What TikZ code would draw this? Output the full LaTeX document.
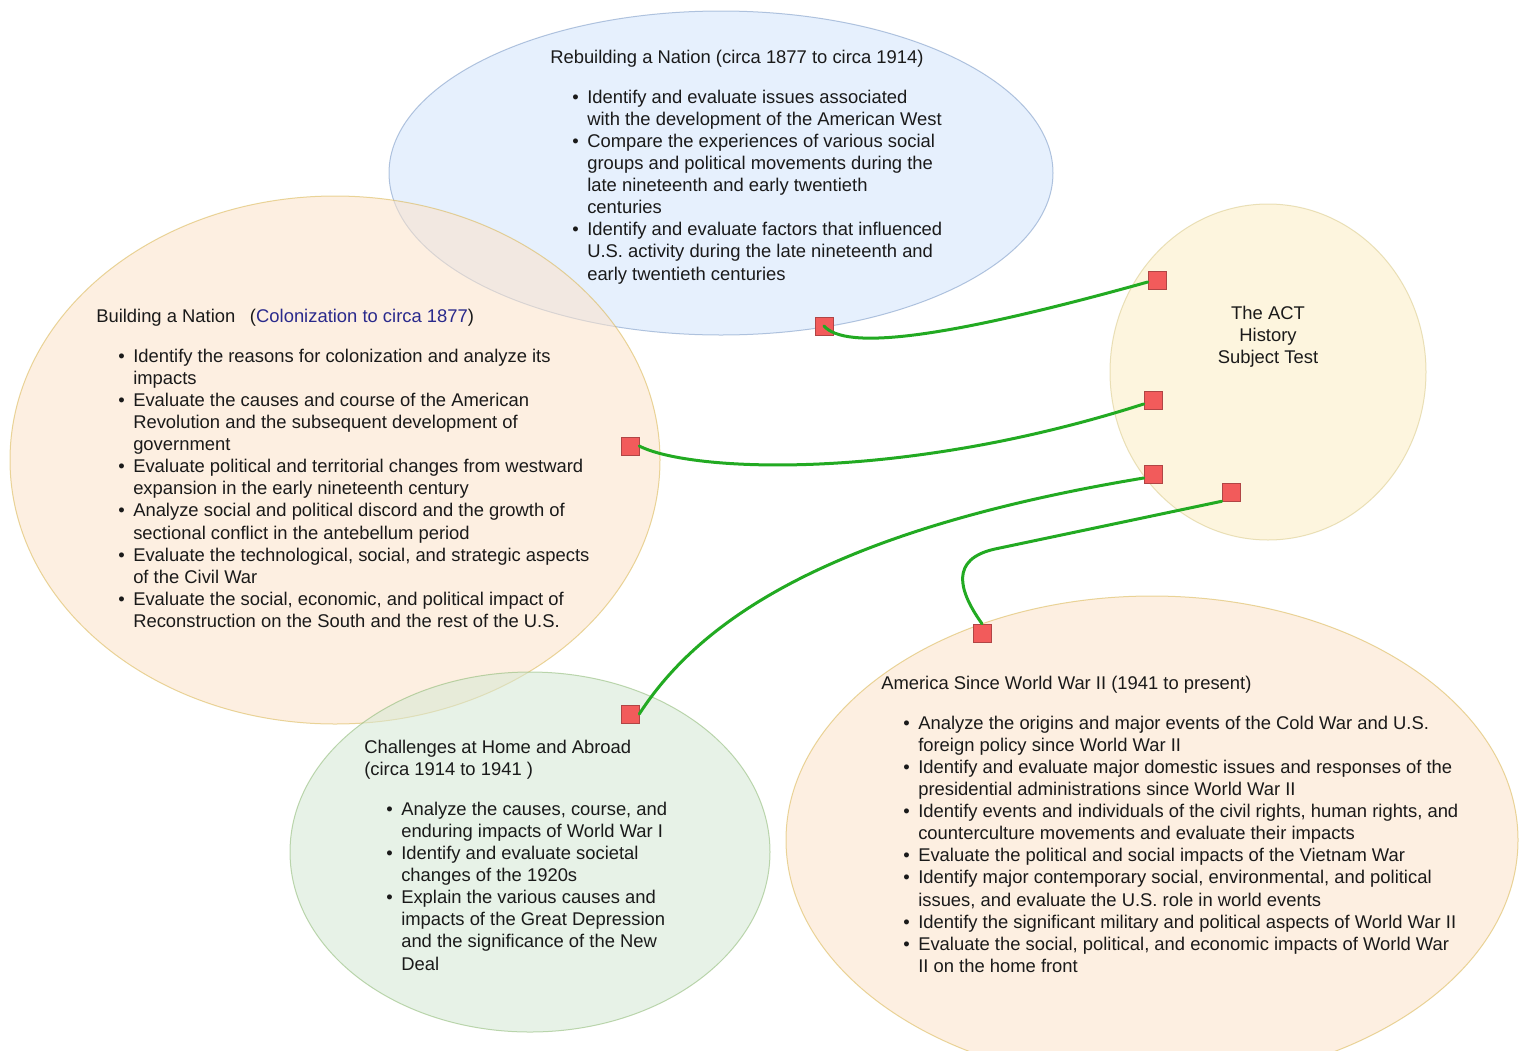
\documentclass[tikz,border=0pt]{standalone}
\usepackage{fontspec}
\setmainfont{Liberation Sans}
\usetikzlibrary{shapes.geometric}
\newdimen\pxu \pxu=0.75pt
\definecolor{txt}{HTML}{1A1A1A}
\definecolor{navy}{HTML}{2A2A8C}
\definecolor{linkg}{HTML}{22AA22}
\definecolor{sqfill}{HTML}{F25B5B}
\definecolor{sqdraw}{HTML}{B04545}
\definecolor{bluefill}{HTML}{DAE8FC}
\definecolor{bluedraw}{HTML}{6C8EBF}
\definecolor{orfill}{HTML}{FDE3CA}
\definecolor{ordraw}{HTML}{D6B040}
\definecolor{yefill}{HTML}{FCEDC4}
\definecolor{yedraw}{HTML}{D6C680}
\definecolor{grfill}{HTML}{D5E8D4}
\definecolor{grdraw}{HTML}{82B366}
\newcommand\mybul{\makebox[27.75pt][l]{\hspace{16.5pt}\textbullet}}
\tikzset{
  blob/.style={ellipse, inner sep=0pt, line width=1\pxu, fill opacity=0.55, draw opacity=0.5},
  sqbox/.style={rectangle, draw=sqdraw, fill=sqfill, minimum size=18\pxu, inner sep=0pt, line width=0.4pt},
  link/.style={draw=linkg, line width=3\pxu, line cap=round},
  txtblock/.style={anchor=base west, inner sep=0pt, text=txt, font=\fontsize{13.8}{16.6}\selectfont},
  centblock/.style={anchor=base, inner sep=0pt, text=txt, font=\fontsize{13.8}{16.6}\selectfont}
}
\begin{document}
\begin{tikzpicture}[x=0.75pt,y=-0.75pt]
\useasboundingbox (0,0) rectangle (1528,1050);
\clip (0,0) rectangle (1528,1050);
\fill[white] (0,0) rectangle (1528,1050);

% ellipses
\node[blob, fill=bluefill, draw=bluedraw, fill opacity=0.65, minimum width=664\pxu, minimum height=324\pxu] (rebuild) at (721,173) {};
\node[blob, fill=orfill, draw=ordraw, minimum width=650\pxu, minimum height=528\pxu] (build) at (335,460) {};
\node[blob, fill=grfill, draw=grdraw, minimum width=480\pxu, minimum height=360\pxu] (chall) at (530,852) {};
\node[blob, fill=yefill, draw=yedraw, minimum width=316\pxu, minimum height=336\pxu] (act) at (1268,372) {};
\node[blob, fill=orfill, draw=ordraw, minimum width=732\pxu, minimum height=488\pxu] (america) at (1152,840) {};

% texts
\node[txtblock] (trebuild) at (550,63) {\begin{tabular}[t]{@{}l@{}l@{}}
\multicolumn{2}{@{}l@{}}{Rebuilding a Nation (circa 1877 to circa 1914)}\\[13.4pt]
\mybul & Identify and evaluate issues associated\\
 & with the development of the American West\\
\mybul & Compare the experiences of various social\\
 & groups and political movements during the\\
 & late nineteenth and early twentieth\\
 & centuries\\
\mybul & Identify and evaluate factors that influenced\\
 & U.S. activity during the late nineteenth and\\
 & early twentieth centuries
\end{tabular}};

\node[txtblock] (tbuild) at (96,322) {\begin{tabular}[t]{@{}l@{}l@{}}
\multicolumn{2}{@{}l@{}}{Building a Nation\hspace{11pt}(\textcolor{navy}{Colonization to circa 1877})}\\[13.4pt]
\mybul & Identify the reasons for colonization and analyze its\\
 & impacts\\
\mybul & Evaluate the causes and course of the American\\
 & Revolution and the subsequent development of\\
 & government\\
\mybul & Evaluate political and territorial changes from westward\\
 & expansion in the early nineteenth century\\
\mybul & Analyze social and political discord and the growth of\\
 & sectional conflict in the antebellum period\\
\mybul & Evaluate the technological, social, and strategic aspects\\
 & of the Civil War\\
\mybul & Evaluate the social, economic, and political impact of\\
 & Reconstruction on the South and the rest of the U.S.
\end{tabular}};

\node[txtblock] (tchall) at (364,753) {\begin{tabular}[t]{@{}l@{}l@{}}
\multicolumn{2}{@{}l@{}}{Challenges at Home and Abroad}\\
\multicolumn{2}{@{}l@{}}{(circa 1914 to 1941 )}\\[13.4pt]
\mybul & Analyze the causes, course, and\\
 & enduring impacts of World War I\\
\mybul & Identify and evaluate societal\\
 & changes of the 1920s\\
\mybul & Explain the various causes and\\
 & impacts of the Great Depression\\
 & and the significance of the New\\
 & Deal
\end{tabular}};

\node[txtblock] (tamerica) at (881,689) {\begin{tabular}[t]{@{}l@{}l@{}}
\multicolumn{2}{@{}l@{}}{America Since World War II (1941 to present)}\\[13.4pt]
\mybul & Analyze the origins and major events of the Cold War and U.S.\\
 & foreign policy since World War II\\
\mybul & Identify and evaluate major domestic issues and responses of the\\
 & presidential administrations since World War II\\
\mybul & Identify events and individuals of the civil rights, human rights, and\\
 & counterculture movements and evaluate their impacts\\
\mybul & Evaluate the political and social impacts of the Vietnam War\\
\mybul & Identify major contemporary social, environmental, and political\\
 & issues, and evaluate the U.S. role in world events\\
\mybul & Identify the significant military and political aspects of World War II\\
\mybul & Evaluate the social, political, and economic impacts of World War\\
 & II on the home front
\end{tabular}};

\node[centblock] (tact) at (1268,319) {\begin{tabular}[t]{@{}c@{}}The ACT\\History\\Subject Test\end{tabular}};

% squares
\node[sqbox] (s1) at (824,326) {};
\node[sqbox] (s2) at (1157,280) {};
\node[sqbox] (s3) at (630,446) {};
\node[sqbox] (s4) at (1153,400) {};
\node[sqbox] (s5) at (1153,474) {};
\node[sqbox] (s6) at (1231,492) {};
\node[sqbox] (s7) at (630,714) {};
\node[sqbox] (s8) at (982,633) {};

% connectors
\draw[link] (s1.center) .. controls (845,350) and (940,340) .. ([yshift=-2\pxu]s2.west);
\draw[link] (s3.east) .. controls (690,472) and (900,482) .. ([yshift=-4\pxu]s4.west);
\draw[link] (s7.east) .. controls (700,620) and (830,530) .. ([yshift=-4\pxu]s5.west);
\draw[link] (s8.north) .. controls (958,590) and (950,559) .. (995,549) -- (s6.south west);
\end{tikzpicture}
\end{document}
